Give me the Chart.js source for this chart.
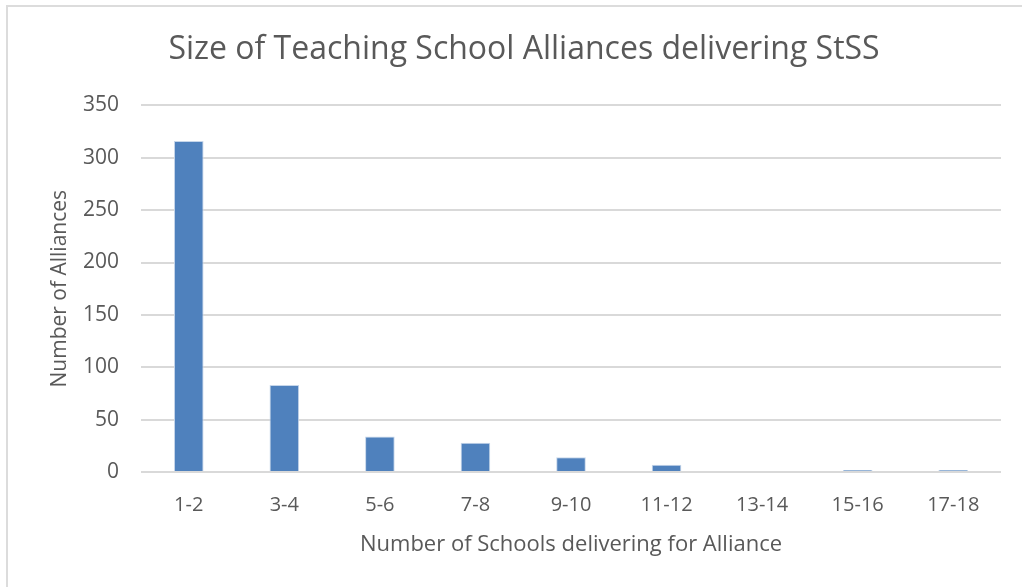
<!DOCTYPE html>
<html>
<head>
<meta charset="utf-8">
<script src="https://cdn.jsdelivr.net/npm/chart.js@4/dist/chart.umd.min.js"></script>
<style>
  html, body { margin: 0; padding: 0; background: #fff; }
  #frame {
    position: absolute; left: 6px; top: 5px;
    width: 1014px; height: 580px;
    border-top: 2px solid #dcdcdc; border-left: 2px solid #dcdcdc;
    background: #fff;
  }
  #chart { display: block; }
</style>
</head>
<body>
<div id="frame"><canvas id="chart" width="1014" height="580"></canvas></div>
<script>
// ─── DATA ───────────────────────────────────────────────────────
const categories = ["1-2", "3-4", "5-6", "7-8", "9-10", "11-12", "13-14", "15-16", "17-18"];
const alliances = [316, 83, 34, 28, 14, 7, 0, 2, 2];
const yTicks = [0, 50, 100, 150, 200, 250, 300, 350];

const FONT = "'Open Sans', 'Noto Sans', sans-serif";
const TEXT = "#595959";

new Chart(document.getElementById("chart"), {
  type: "bar",
  data: {
    labels: categories,
    datasets: [{
      label: "Alliances",
      data: alliances,
      backgroundColor: "#4f81bd",
      borderColor: "#c6d6ea",
      borderWidth: { top: 1, left: 1, right: 1, bottom: 0 },
      borderSkipped: "bottom",
      barPercentage: 0.62,
      categoryPercentage: 0.5,
    }],
  },
  options: {
    responsive: false,
    animation: false,
    layout: { padding: { left: 39, right: 21, top: 0, bottom: 29 } },
    plugins: {
      legend: { display: false },
      tooltip: { enabled: false },
      title: {
        display: true,
        text: "Size of Teaching School Alliances delivering StSS",
        color: TEXT,
        font: { family: FONT, size: 32, weight: "normal" },
        padding: { top: 24, bottom: 36 },
      },
    },
    scales: {
      x: {
        afterFit: (axis) => { axis.height = 86; },
        grid: { display: false },
        border: { display: false },
        ticks: { color: TEXT, font: { family: FONT, size: 20 }, padding: 13 },
        title: {
          display: true,
          text: "Number of Schools delivering for Alliance",
          color: TEXT,
          font: { family: FONT, size: 22 },
          padding: { top: 0, bottom: 0 },
        },
      },
      y: {
        min: 0,
        max: 350,
        afterFit: (axis) => { axis.width = 94; },
        afterBuildTicks: (axis) => { axis.ticks = yTicks.map((v) => ({ value: v })); },
        grid: { color: "#d9d9d9", lineWidth: 2, drawTicks: false },
        border: { display: false },
        ticks: { color: TEXT, font: { family: FONT, size: 21 }, padding: 22 },
        title: {
          display: true,
          text: "Number of Alliances",
          color: TEXT,
          font: { family: FONT, size: 21 },
          padding: { top: 0, bottom: 0 },
        },
      },
    },
  },
});
</script>
</body>
</html>
